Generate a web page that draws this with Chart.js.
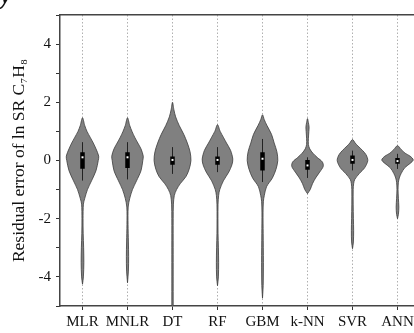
<!DOCTYPE html>
<html>
<head>
<meta charset="utf-8">
<script src="https://cdn.jsdelivr.net/npm/chart.js@4/dist/chart.umd.min.js"></script>
<style>
    html, body { margin: 0; padding: 0; background: #fff; width: 414px; height: 333px; overflow: hidden; }
    #wrap { position: absolute; left: 0; top: 0; width: 424px; height: 333px; }
    #frag { position: absolute; left: 0px; top: -19px; font: italic bold 27px 'Liberation Serif', serif; color: #111; line-height: 1; }
</style>
</head>
<body>
<div id="wrap"><canvas id="chart" width="424" height="333"></canvas></div>
<div id="frag">y</div>
<script>
// models on the x axis
const models = ['MLR', 'MNLR', 'DT', 'RF', 'GBM', 'k-NN', 'SVR', 'ANN'];

// violin outlines: [residual, half width in category units], bottom to top
const mlrShape = [[-4.25, 0], [-4.0, 0.02], [-3.5, 0.03], [-3.0, 0.025], [-2.5, 0.015], [-2.0, 0.012], [-1.5, 0.02], [-1.3, 0.05], [-1.0, 0.11], [-0.7, 0.2], [-0.35, 0.3], [0, 0.35], [0.15, 0.36], [0.4, 0.3], [0.6, 0.24], [0.8, 0.17], [1.0, 0.1], [1.2, 0.05], [1.47, 0]];
const mnlrShape = [[-4.2, 0], [-3.8, 0.02], [-3.3, 0.025], [-2.8, 0.02], [-2.2, 0.012], [-1.6, 0.015], [-1.3, 0.05], [-1.0, 0.11], [-0.7, 0.2], [-0.35, 0.3], [0, 0.34], [0.15, 0.35], [0.4, 0.3], [0.6, 0.23], [0.8, 0.16], [1.0, 0.1], [1.2, 0.05], [1.47, 0]];
const dtShape = [[-5.0, 0.015], [-4.0, 0.015], [-3.0, 0.015], [-2.0, 0.015], [-1.5, 0.02], [-1.2, 0.04], [-1.0, 0.09], [-0.8, 0.17], [-0.55, 0.3], [-0.3, 0.37], [0, 0.41], [0.3, 0.39], [0.6, 0.33], [0.9, 0.25], [1.2, 0.15], [1.5, 0.07], [1.75, 0.03], [2.0, 0]];
const rfShape = [[-4.3, 0], [-4.0, 0.02], [-3.5, 0.025], [-3.0, 0.02], [-2.5, 0.012], [-2.0, 0.01], [-1.5, 0.012], [-1.2, 0.025], [-1.0, 0.05], [-0.7, 0.13], [-0.4, 0.25], [-0.15, 0.32], [0.05, 0.34], [0.35, 0.29], [0.6, 0.2], [0.8, 0.13], [1.0, 0.06], [1.23, 0]];
const gbmShape = [[-4.73, 0], [-4.3, 0.015], [-3.5, 0.02], [-2.5, 0.015], [-1.8, 0.012], [-1.4, 0.02], [-1.2, 0.04], [-0.9, 0.09], [-0.6, 0.22], [-0.3, 0.3], [0, 0.34], [0.3, 0.32], [0.6, 0.26], [0.9, 0.2], [1.2, 0.1], [1.4, 0.04], [1.57, 0]];
const knnShape = [[-1.14, 0], [-1.0, 0.06], [-0.8, 0.11], [-0.6, 0.18], [-0.4, 0.27], [-0.2, 0.35], [-0.05, 0.33], [0.1, 0.22], [0.25, 0.12], [0.4, 0.05], [0.55, 0.02], [0.75, 0.02], [1.0, 0.03], [1.15, 0.035], [1.3, 0.02], [1.44, 0]];
const svrShape = [[-3.03, 0], [-2.8, 0.02], [-2.4, 0.025], [-2.0, 0.02], [-1.5, 0.015], [-1.0, 0.015], [-0.8, 0.025], [-0.65, 0.05], [-0.45, 0.15], [-0.25, 0.27], [0, 0.34], [0.2, 0.3], [0.35, 0.22], [0.5, 0.12], [0.6, 0.06], [0.72, 0]];
const annShape = [[-2.0, 0], [-1.85, 0.02], [-1.6, 0.03], [-1.3, 0.02], [-1.0, 0.012], [-0.75, 0.02], [-0.6, 0.04], [-0.45, 0.08], [-0.25, 0.16], [-0.1, 0.28], [0.02, 0.35], [0.15, 0.28], [0.25, 0.17], [0.38, 0.08], [0.51, 0]];
const shapes = [mlrShape, mnlrShape, dtShape, rfShape, gbmShape, knnShape, svrShape, annShape];

// inner box plots
const q1 = [-0.28, -0.26, -0.15, -0.15, -0.34, -0.32, -0.11, -0.11];
const q3 = [0.28, 0.28, 0.14, 0.14, 0.28, 0.02, 0.17, 0.09];
const whiskerLow = [-0.69, -0.65, -0.46, -0.4, -0.74, -0.6, -0.34, -0.29];
const whiskerHigh = [0.63, 0.63, 0.46, 0.46, 0.74, 0.11, 0.34, 0.23];
const medians = [0.11, 0.11, 0.02, 0.02, 0.06, -0.17, 0.02, -0.02];

const yTicks = [-4, -2, 0, 2, 4];

function violinPoints(i, shape) {
    const right = shape.map(([y, w]) => ({ x: i + w, y }));
    const left = shape.slice(0, -1).reverse().map(([y, w]) => ({ x: i - w, y }));
    return right.concat(left);
}

// vertical segments split with null gaps
function segments(lo, hi) {
    const pts = [];
    lo.forEach((v, i) => {
        pts.push({ x: i, y: v }, { x: i, y: hi[i] }, { x: i, y: null });
    });
    return pts;
}

const serif = "'Liberation Serif', 'DejaVu Serif', serif";

const datasets = [
    {
        type: 'scatter',
        data: medians.map((m, i) => ({ x: i, y: m })),
        pointStyle: 'rect',
        pointRadius: 1.4,
        backgroundColor: '#fff',
        borderWidth: 0,
        order: 0
    },
    {
        type: 'line',
        data: segments(q1, q3),
        borderColor: '#000',
        borderWidth: 4.5,
        borderCapStyle: 'butt',
        pointRadius: 0,
        fill: false,
        spanGaps: false,
        order: 1
    },
    {
        type: 'line',
        data: segments(whiskerLow, whiskerHigh),
        borderColor: '#222',
        borderWidth: 1,
        pointRadius: 0,
        fill: false,
        spanGaps: false,
        order: 2
    }
];

shapes.forEach((shape, i) => {
    datasets.push({
        type: 'line',
        data: violinPoints(i, shape),
        fill: 'shape',
        backgroundColor: '#808080',
        borderColor: '#3c3c3c',
        borderWidth: 0.8,
        pointRadius: 0,
        tension: 0.3,
        order: 3
    });
});

new Chart(document.getElementById('chart'), {
    type: 'scatter',
    data: { datasets },
    options: {
        responsive: false,
        animation: false,
        layout: { padding: { left: 0, right: 1, top: 0, bottom: 0 } },
        plugins: { legend: { display: false }, tooltip: { enabled: false } },
        scales: {
            x: {
                type: 'linear',
                position: 'bottom',
                min: -0.5,
                max: 7.5,
                afterBuildTicks: (axis) => { axis.ticks = models.map((_, i) => ({ value: i })); },
                afterFit: (axis) => { axis.height = 27; },
                ticks: {
                    autoSkip: false,
                    maxRotation: 0,
                    padding: 3,
                    color: '#111',
                    font: { family: serif, size: 15 },
                    callback: (v) => models[v]
                },
                grid: {
                    color: '#b0b0b0',
                    lineWidth: 1,
                    tickLength: 4,
                    tickColor: '#333',
                    tickBorderDash: [],
                    tickWidth: 1
                },
                border: { color: '#444', width: 1.5, dash: [1.5, 2] }
            },
            xTop: {
                type: 'linear',
                position: 'top',
                min: -0.5,
                max: 7.5,
                afterFit: (axis) => { axis.height = 15; },
                ticks: { display: false },
                grid: { display: false },
                border: { display: true, color: '#444', width: 1.5 }
            },
            y: {
                min: -5,
                max: 5,
                afterFit: (axis) => { axis.width = 60; },
                ticks: {
                    stepSize: 1,
                    padding: 5,
                    color: '#111',
                    font: { family: serif, size: 15 },
                    callback: (v) => (yTicks.includes(v) ? String(v) : '')
                },
                grid: { drawOnChartArea: false, tickLength: 4, tickColor: '#333', tickWidth: 1 },
                border: { color: '#444', width: 1.5 },
                title: {
                    display: true,
                    text: 'Residual error of ln SR C₇H₈',
                    color: '#111',
                    font: { family: serif, size: 17.5 },
                    padding: { top: 9, bottom: 0 }
                }
            }
        }
    }
});
</script>
</body>
</html>
